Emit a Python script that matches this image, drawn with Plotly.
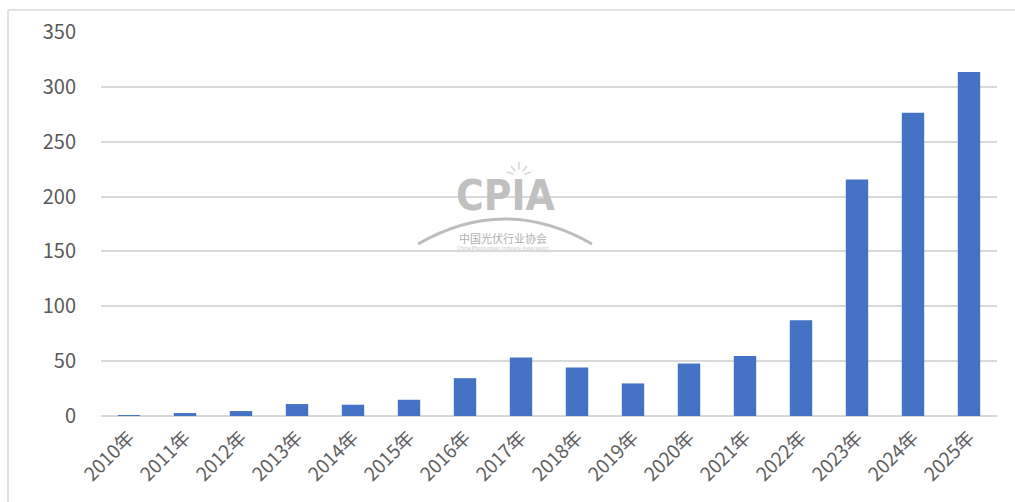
import plotly.graph_objects as go

years = ["2010年", "2011年", "2012年", "2013年", "2014年", "2015年", "2016年", "2017年",
         "2018年", "2019年", "2020年", "2021年", "2022年", "2023年", "2024年", "2025年"]
values = [0.8, 2.7, 4.5, 10.9, 10.3, 14.8, 34.5, 53.3, 44.3, 29.7, 47.9, 54.8, 87.3, 215.5, 276.4, 313.6]
y_ticks = [0, 50, 100, 150, 200, 250, 300, 350]

W, H = 1015, 502
L, R, T, B = 101, 997, 32, 416

def px(x):
    return (x - L) / (R - L)

def py(y):
    return (B - y) / (B - T)

fig = go.Figure()
fig.add_trace(go.Bar(x=years, y=values, marker=dict(color="#4472C4", line=dict(width=0)),
                     width=0.4))

font_family = "Noto Sans CJK SC, Open Sans, sans-serif"

fig.update_layout(
    width=W, height=H,
    margin=dict(l=L, r=W - R, t=T, b=H - B, autoexpand=False),
    paper_bgcolor="white", plot_bgcolor="white",
    showlegend=False,
    font=dict(family=font_family, color="#595959", size=18),
    xaxis=dict(tickangle=-45, showgrid=False, showline=False, ticks="outside",
               ticklen=2, tickcolor="rgba(0,0,0,0)", tickfont=dict(size=19, color="#5f5f5f")),
    yaxis=dict(range=[0, 350], tickvals=y_ticks, showgrid=True, gridcolor="#d9d9d9",
               gridwidth=1.5, zeroline=True, zerolinecolor="#d9d9d9", zerolinewidth=1.5,
               ticks="outside", ticklen=20, tickcolor="rgba(0,0,0,0)",
               tickfont=dict(size=20, color="#595959")),
)

# chart border
fig.add_shape(type="line", xref="paper", yref="paper", x0=px(8), x1=px(1015), y0=py(10), y1=py(10),
              line=dict(color="#d9d9d9", width=1.5))
fig.add_shape(type="line", xref="paper", yref="paper", x0=px(8), x1=px(8), y0=py(10), y1=py(502),
              line=dict(color="#d9d9d9", width=1.5))

# watermark
fig.add_annotation(xref="paper", yref="paper", x=px(505), y=py(195), text="<b>CPIA</b>",
                   showarrow=False,
                   font=dict(family="DejaVu Sans Condensed, Liberation Sans Narrow, sans-serif",
                             size=42, color="#c0c0c0"))
fig.add_annotation(xref="paper", yref="paper", x=px(503), y=py(238), text="中国光伏行业协会",
                   showarrow=False, font=dict(family="Noto Sans CJK SC", size=11, color="#b0b0b0"))
fig.add_annotation(xref="paper", yref="paper", x=px(503), y=py(248), text="China Photovoltaic Industry Association",
                   showarrow=False, font=dict(family="Open Sans", size=5, color="#c8c8c8"))
path = "M {},{} Q {},{} {},{}".format(px(418), py(244), px(505), py(194), px(592), py(244))
fig.add_shape(type="path", xref="paper", yref="paper", path=path,
              line=dict(color="#bdbdbd", width=3))
# sun rays above the logo
cx, cy = 519, 176
for dx, dy in [(-12, -4), (-8, -10), (0, -14), (8, -10), (12, -4)]:
    fig.add_shape(type="line", xref="paper", yref="paper",
                  x0=px(cx + dx * 0.45), y0=py(cy + dy * 0.45), x1=px(cx + dx), y1=py(cy + dy),
                  line=dict(color="#d6d6d6", width=1.5))

fig.write_html("out.html", config={"displayModeBar": False},
               post_script="document.body.style.margin='0';document.body.style.overflow='hidden';")
